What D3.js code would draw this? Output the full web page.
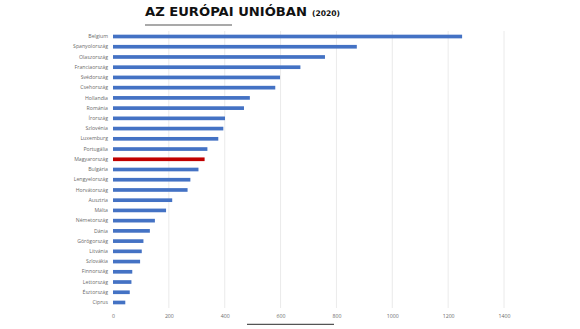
<!DOCTYPE html>
<html>
<head>
<meta charset="utf-8">
<script src="https://cdn.jsdelivr.net/npm/d3@7/dist/d3.min.js"></script>
<style>
  html, body { margin: 0; padding: 0; background: #ffffff; }
  svg { display: block; }
</style>
</head>
<body>
<svg id="chart" width="580" height="329"></svg>
<script>
// Countries, top to bottom
const countries = [
  "Belgium", "Spanyolország", "Olaszország", "Franciaország", "Svédország",
  "Csehország", "Hollandia", "Románia", "Írország", "Szlovénia",
  "Luxemburg", "Portugália", "Magyarország", "Bulgária", "Lengyelország",
  "Horvátország", "Ausztria", "Málta", "Németország", "Dánia",
  "Görögország", "Litvánia", "Szlovákia", "Finnország", "Lettország",
  "Észtország", "Ciprus"
];
const values = [
  1250, 873, 759, 671, 598,
  581, 490, 469, 401, 395,
  377, 338, 328, 306, 277,
  267, 212, 190, 150, 132,
  109, 103, 97, 69, 66,
  60, 44
];
const highlight = "Magyarország";
const xTicks = [0, 200, 400, 600, 800, 1000, 1200, 1400];

const svg = d3.select("#chart");

const x = d3.scaleLinear().domain([0, 1400]).range([113, 504]);
const y = d3.scaleBand().domain(countries).range([31.4, 307.6]).paddingInner(0.64).paddingOuter(0.32);

// vertical gridlines
svg.append("g")
  .selectAll("line")
  .data(xTicks.filter(d => d > 0))
  .join("line")
  .attr("x1", d => x(d)).attr("x2", d => x(d))
  .attr("y1", 31).attr("y2", 308)
  .attr("stroke", "#e4e4e4")
  .attr("stroke-width", 0.8);

// bars
svg.append("g")
  .selectAll("rect")
  .data(countries.map((c, i) => ({ c, v: values[i] })))
  .join("rect")
  .attr("x", x(0))
  .attr("y", d => y(d.c))
  .attr("width", d => x(d.v) - x(0))
  .attr("height", y.bandwidth())
  .attr("fill", d => d.c === highlight ? "#C00000" : "#4472C4");

// category labels
const yAxis = svg.append("g")
  .attr("transform", `translate(${x(0) - 2},0)`)
  .call(d3.axisLeft(y).tickSize(0).tickPadding(3));
yAxis.select(".domain").remove();
yAxis.selectAll("text")
  .attr("fill", "#6b6b6b")
  .style("font-family", "'Open Sans', 'Liberation Sans', sans-serif")
  .style("font-size", "5.2px");

// value axis
const xAxis = svg.append("g")
  .attr("transform", "translate(0,312)")
  .call(d3.axisBottom(x).tickValues(xTicks).tickSize(0).tickPadding(2).tickFormat(d3.format("d")));
xAxis.select(".domain").remove();
xAxis.selectAll("text")
  .attr("fill", "#6b6b6b")
  .style("font-family", "'Open Sans', 'Liberation Sans', sans-serif")
  .style("font-size", "5.2px");

// title
const title = svg.append("text")
  .attr("x", 145).attr("y", 15.5)
  .attr("fill", "#111")
  .style("font-family", "'DejaVu Sans', sans-serif")
  .style("font-weight", "bold");
title.append("tspan")
  .style("font-size", "11.8px")
  .attr("textLength", 162)
  .attr("lengthAdjust", "spacingAndGlyphs")
  .text("AZ EURÓPAI UNIÓBAN");
title.append("tspan")
  .attr("dx", 5)
  .style("font-size", "7.6px")
  .text("(2020)");

// decorative rules
svg.append("line")
  .attr("x1", 145).attr("x2", 232).attr("y1", 25).attr("y2", 25)
  .attr("stroke", "#555").attr("stroke-width", 1.2);
svg.append("line")
  .attr("x1", 247).attr("x2", 334).attr("y1", 324.3).attr("y2", 324.3)
  .attr("stroke", "#555").attr("stroke-width", 1.2);
</script>
</body>
</html>
